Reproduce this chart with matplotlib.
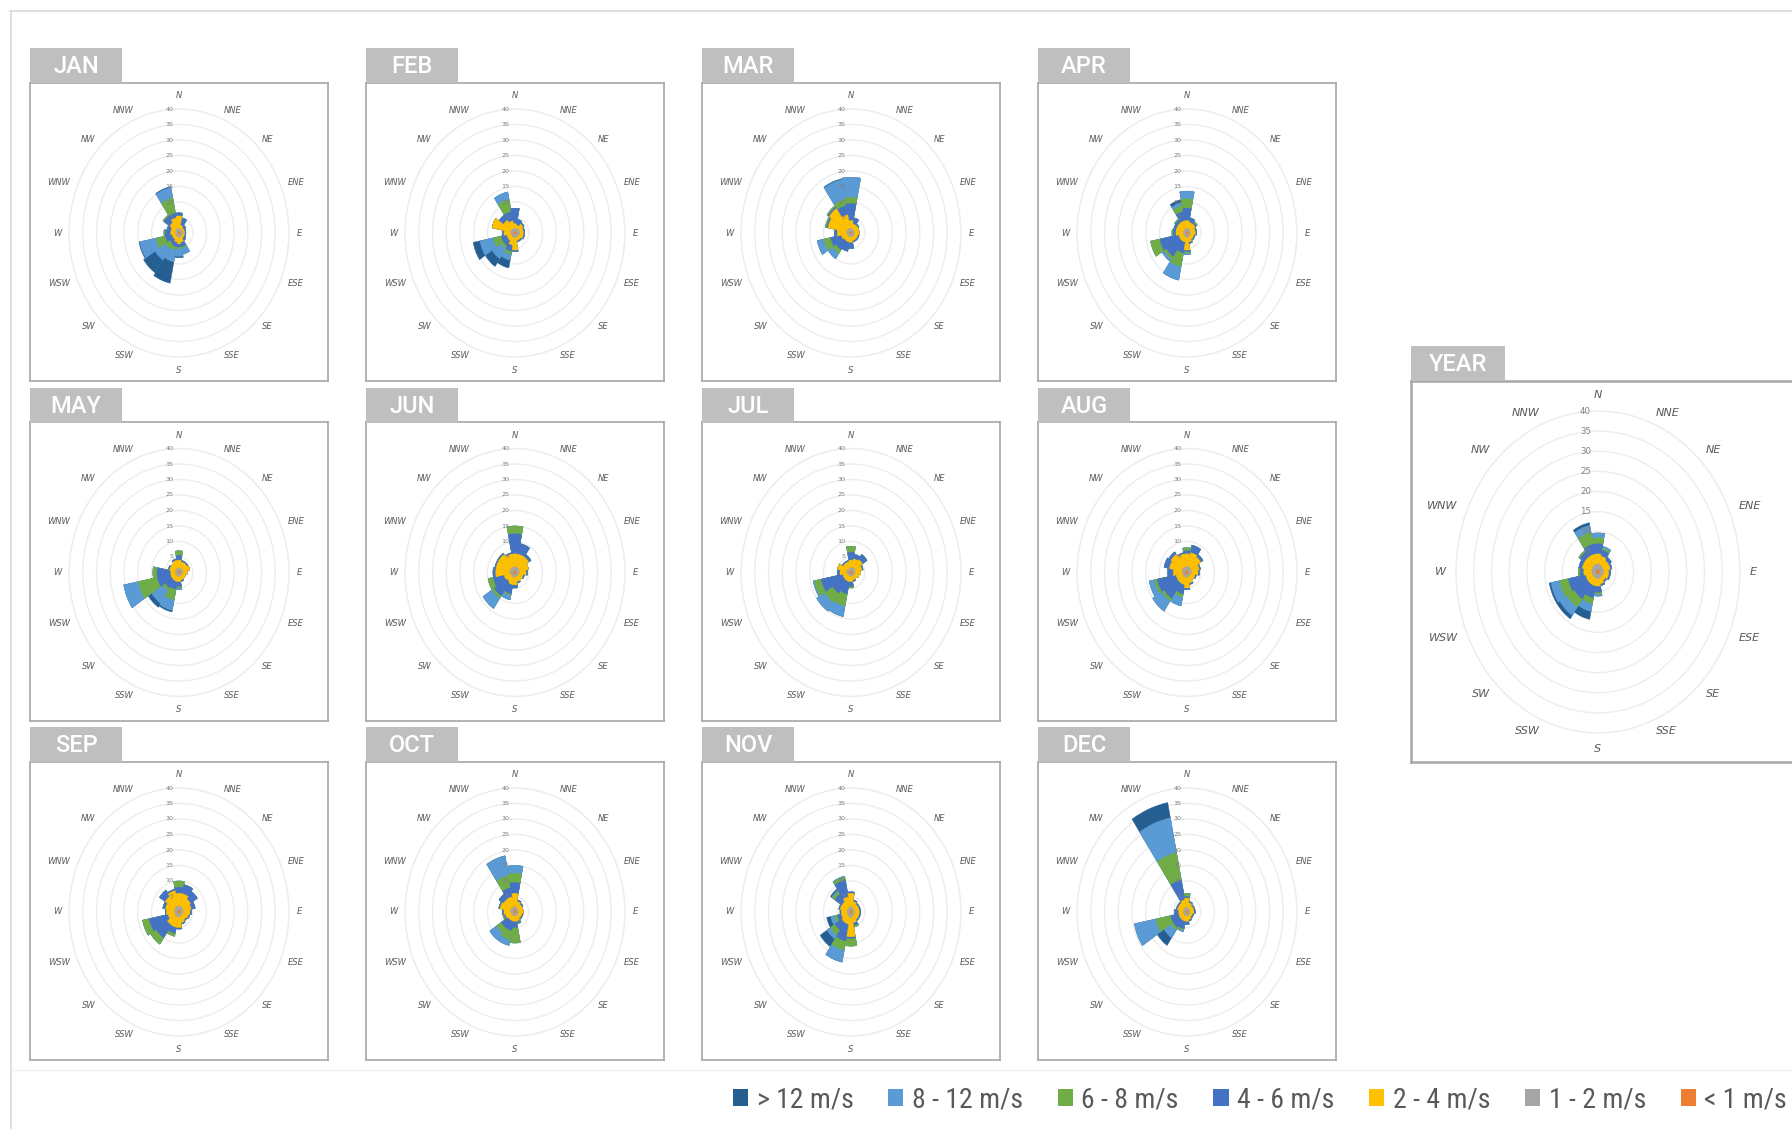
import numpy as np
import matplotlib
matplotlib.use("Agg")
import matplotlib.pyplot as plt
from matplotlib.patches import Rectangle, Patch
from matplotlib.lines import Line2D
from matplotlib import font_manager

W, H = 1792, 1129

DIRS = ["N", "NNE", "NE", "ENE", "E", "ESE", "SE", "SSE",
        "S", "SSW", "SW", "WSW", "W", "WNW", "NW", "NNW"]
CLASSES = ["< 1 m/s", "1 - 2 m/s", "2 - 4 m/s", "4 - 6 m/s",
           "6 - 8 m/s", "8 - 12 m/s", "> 12 m/s"]
COLORS = ["#ED7D31", "#A5A5A5", "#FFC000", "#4472C4",
          "#70AD47", "#5B9BD5", "#255E91"]
RINGS = [5, 10, 15, 20, 25, 30, 35, 40]

# cumulative frequency (%) per direction, rows: <1, 1-2, 2-4, 4-6, 6-8, 8-12, >12
JAN = [
    [0.4, 0.3, 0.3, 0.3, 0.4, 0.3, 0.3, 0.3, 0.4, 0.3, 0.3, 0.3, 0.3, 0.3, 0.4, 0.4],
    [1.4, 1.2, 1.2, 1.3, 1.5, 1.3, 1.2, 1.3, 1.4, 1.3, 1.2, 1.2, 1.3, 1.3, 1.4, 1.5],
    [5.5, 2.5, 2.0, 2.0, 2.0, 2.0, 2.0, 3.0, 3.5, 3.0, 2.5, 2.5, 3.0, 3.0, 4.0, 5.0],
    [6.5, 5.0, 3.0, 2.5, 2.5, 2.5, 3.0, 4.5, 4.5, 4.5, 4.0, 5.0, 5.0, 4.5, 6.5, 6.5],
    [6.5, 5.0, 3.0, 2.5, 2.5, 2.5, 3.0, 5.0, 5.0, 5.5, 6.0, 8.5, 5.5, 4.5, 7.0, 11.5],
    [6.5, 5.0, 3.0, 2.5, 2.5, 2.5, 3.0, 7.0, 7.5, 9.5, 10.5, 14.5, 5.5, 4.5, 7.0, 15.0],
    [6.5, 5.0, 3.0, 2.5, 2.5, 2.5, 3.0, 7.0, 8.0, 16.5, 15.5, 14.8, 5.5, 4.5, 7.0, 15.3],
]
FEB = [
    [0.4, 0.4, 0.5, 0.4, 0.5, 0.4, 0.3, 0.3, 0.4, 0.3, 0.3, 0.3, 0.4, 0.4, 0.4, 0.4],
    [1.5, 1.4, 1.8, 1.6, 1.8, 1.5, 1.3, 1.3, 1.5, 1.4, 1.3, 1.3, 1.5, 1.6, 1.5, 1.4],
    [3.0, 2.5, 3.5, 3.0, 3.0, 3.0, 2.5, 2.5, 5.5, 4.0, 3.0, 3.0, 4.0, 8.5, 5.0, 4.0],
    [8.0, 4.5, 4.0, 3.5, 3.5, 3.5, 3.0, 3.0, 6.0, 6.0, 5.0, 5.0, 4.5, 8.5, 7.0, 7.0],
    [8.0, 4.5, 4.0, 3.5, 3.5, 3.5, 3.0, 3.0, 6.0, 7.0, 6.0, 8.0, 4.5, 8.5, 7.0, 11.0],
    [8.0, 4.5, 4.0, 3.5, 3.5, 3.5, 3.0, 3.0, 6.0, 9.0, 10.0, 13.0, 4.5, 8.5, 7.0, 13.5],
    [8.0, 4.5, 4.0, 3.5, 3.5, 3.5, 3.0, 3.0, 6.0, 11.5, 13.0, 15.5, 4.5, 8.5, 7.0, 13.5],
]
MAR = [
    [0.4, 0.3, 0.3, 0.3, 0.3, 0.3, 0.3, 0.3, 0.3, 0.3, 0.3, 0.3, 0.4, 0.4, 0.4, 0.4],
    [1.5, 1.3, 1.2, 1.2, 1.2, 1.1, 1.1, 1.1, 1.2, 1.3, 1.3, 1.3, 1.5, 1.6, 1.6, 1.5],
    [4.0, 3.0, 3.0, 3.0, 3.0, 2.5, 2.5, 2.5, 3.0, 3.0, 3.0, 3.5, 5.0, 8.5, 9.5, 6.0],
    [9.5, 5.0, 3.5, 3.0, 3.0, 3.0, 3.0, 3.0, 5.0, 6.0, 6.5, 7.5, 6.0, 9.0, 10.0, 9.0],
    [11.5, 5.0, 3.5, 3.0, 3.0, 3.0, 3.0, 3.0, 5.0, 6.0, 8.0, 10.0, 6.0, 9.5, 10.5, 11.0],
    [18.0, 5.0, 3.5, 3.0, 3.0, 3.0, 3.0, 3.0, 5.0, 6.0, 10.0, 12.5, 6.0, 9.5, 10.5, 17.5],
    [18.0, 5.0, 3.5, 3.0, 3.0, 3.0, 3.0, 3.0, 5.0, 6.0, 10.0, 12.5, 6.0, 9.5, 10.5, 17.8],
]
APR = [
    [0.4, 0.4, 0.3, 0.3, 0.3, 0.3, 0.3, 0.3, 0.4, 0.3, 0.3, 0.3, 0.3, 0.3, 0.3, 0.4],
    [1.5, 1.4, 1.3, 1.2, 1.2, 1.1, 1.1, 1.2, 1.5, 1.3, 1.2, 1.2, 1.3, 1.3, 1.3, 1.4],
    [4.0, 3.5, 3.5, 3.0, 3.0, 2.5, 2.5, 3.0, 5.5, 3.0, 3.0, 3.0, 4.0, 4.0, 4.0, 4.0],
    [8.0, 5.0, 4.0, 3.5, 3.5, 3.0, 3.0, 3.5, 6.0, 6.5, 9.0, 10.0, 5.0, 5.0, 5.0, 7.0],
    [11.0, 5.0, 4.5, 3.5, 3.5, 3.0, 3.0, 3.5, 6.5, 11.0, 10.0, 13.5, 5.5, 5.0, 5.5, 9.0],
    [13.5, 5.0, 4.5, 3.5, 3.5, 3.0, 3.0, 3.5, 7.0, 15.5, 11.0, 13.5, 5.5, 5.0, 5.5, 10.0],
    [13.5, 5.0, 4.5, 3.5, 3.5, 3.0, 3.0, 3.5, 7.0, 15.5, 11.0, 13.5, 5.5, 5.0, 5.5, 11.0],
]
MAY = [
    [0.4, 0.3, 0.4, 0.4, 0.3, 0.3, 0.3, 0.3, 0.3, 0.3, 0.3, 0.3, 0.3, 0.3, 0.3, 0.4],
    [1.5, 1.3, 1.4, 1.5, 1.3, 1.1, 1.1, 1.1, 1.2, 1.2, 1.2, 1.2, 1.2, 1.3, 1.3, 1.4],
    [4.0, 3.5, 3.5, 4.0, 3.0, 2.5, 2.5, 2.5, 3.0, 3.0, 3.0, 3.0, 3.0, 3.5, 3.5, 4.0],
    [5.5, 4.0, 4.0, 4.0, 3.0, 2.5, 2.5, 3.0, 4.5, 5.5, 6.0, 8.0, 8.0, 4.0, 3.5, 4.5],
    [7.0, 4.0, 4.0, 4.0, 3.0, 2.5, 2.5, 3.0, 5.0, 9.0, 7.0, 15.0, 9.5, 4.0, 3.5, 4.5],
    [7.0, 4.0, 4.0, 4.0, 3.0, 2.5, 2.5, 3.0, 5.5, 12.5, 12.0, 20.5, 9.5, 4.0, 3.5, 4.5],
    [7.0, 4.0, 4.0, 4.0, 3.0, 2.5, 2.5, 3.0, 5.5, 13.0, 13.5, 20.5, 9.5, 4.0, 3.5, 4.5],
]
JUN = [
    [0.5, 0.5, 0.5, 0.4, 0.4, 0.3, 0.3, 0.3, 0.4, 0.4, 0.3, 0.4, 0.5, 0.5, 0.5, 0.5],
    [1.8, 1.8, 1.7, 1.6, 1.5, 1.2, 1.2, 1.2, 1.5, 1.5, 1.3, 1.5, 1.8, 1.8, 1.8, 1.8],
    [6.0, 6.0, 6.0, 5.0, 4.0, 3.0, 3.0, 3.0, 4.0, 4.0, 3.5, 4.0, 7.0, 7.0, 7.0, 6.0],
    [12.5, 9.5, 7.0, 5.0, 4.5, 3.5, 3.0, 3.5, 5.0, 7.0, 9.0, 8.0, 8.0, 7.5, 7.5, 6.5],
    [15.0, 9.5, 7.0, 5.0, 4.5, 3.5, 3.0, 3.5, 5.0, 7.5, 10.0, 10.0, 8.0, 7.5, 7.5, 6.5],
    [15.0, 9.5, 7.0, 5.0, 4.5, 3.5, 3.0, 3.5, 5.0, 9.0, 14.0, 10.0, 8.0, 7.5, 7.5, 6.5],
    [15.0, 9.5, 7.0, 5.0, 4.5, 3.5, 3.0, 3.5, 5.0, 9.0, 14.0, 10.0, 8.0, 7.5, 7.5, 6.5],
]
JUL = [
    [0.4, 0.4, 0.5, 0.4, 0.4, 0.3, 0.3, 0.3, 0.3, 0.3, 0.3, 0.3, 0.4, 0.4, 0.3, 0.3],
    [1.5, 1.6, 1.7, 1.5, 1.4, 1.2, 1.1, 1.1, 1.2, 1.2, 1.2, 1.2, 1.5, 1.6, 1.3, 1.3],
    [4.0, 4.5, 5.0, 4.0, 3.5, 3.0, 2.5, 2.5, 3.0, 3.0, 3.0, 3.0, 4.0, 5.0, 3.5, 3.5],
    [6.5, 6.0, 7.0, 4.5, 3.5, 3.0, 2.5, 3.0, 4.5, 7.0, 8.0, 11.0, 5.0, 5.0, 4.0, 4.0],
    [8.5, 6.0, 7.0, 4.5, 3.5, 3.0, 2.5, 3.0, 5.0, 11.0, 11.5, 13.5, 5.0, 5.0, 4.0, 4.0],
    [8.5, 6.0, 7.0, 4.5, 3.5, 3.0, 2.5, 3.0, 5.0, 14.5, 15.0, 14.0, 5.0, 5.0, 4.0, 4.0],
    [8.5, 6.0, 7.0, 4.5, 3.5, 3.0, 2.5, 3.0, 5.0, 14.5, 15.0, 14.0, 5.0, 5.0, 4.0, 4.0],
]
AUG = [
    [0.5, 0.5, 0.5, 0.4, 0.4, 0.3, 0.3, 0.3, 0.4, 0.4, 0.4, 0.4, 0.4, 0.5, 0.5, 0.5],
    [1.8, 1.9, 1.8, 1.6, 1.5, 1.2, 1.2, 1.3, 1.6, 1.5, 1.5, 1.5, 1.6, 1.8, 1.9, 1.8],
    [6.0, 6.5, 6.0, 4.5, 4.0, 3.0, 3.0, 3.5, 5.0, 4.0, 4.0, 4.0, 5.0, 6.5, 7.0, 6.0],
    [7.0, 9.0, 7.0, 5.0, 4.5, 3.5, 3.0, 4.0, 5.5, 7.0, 10.0, 11.0, 7.0, 8.5, 8.0, 6.5],
    [8.0, 9.0, 7.0, 5.0, 4.5, 3.5, 3.0, 4.0, 5.5, 8.0, 11.0, 12.0, 7.0, 8.5, 8.0, 6.5],
    [8.0, 9.0, 7.0, 5.0, 4.5, 3.5, 3.0, 4.0, 5.5, 11.0, 15.0, 14.0, 7.0, 8.5, 8.0, 6.5],
    [8.0, 9.0, 7.0, 5.0, 4.5, 3.5, 3.0, 4.0, 5.5, 11.0, 15.0, 14.0, 7.0, 8.5, 8.0, 6.5],
]
SEP = [
    [0.5, 0.5, 0.4, 0.4, 0.4, 0.3, 0.3, 0.3, 0.4, 0.4, 0.4, 0.4, 0.4, 0.4, 0.5, 0.5],
    [1.8, 1.8, 1.6, 1.5, 1.5, 1.3, 1.2, 1.3, 1.6, 1.6, 1.6, 1.5, 1.5, 1.6, 1.8, 1.9],
    [6.0, 6.0, 5.0, 4.5, 4.0, 3.5, 3.0, 3.5, 5.0, 5.0, 5.0, 4.0, 4.5, 5.0, 6.0, 7.0],
    [8.0, 9.0, 8.0, 6.0, 4.5, 4.0, 3.5, 4.0, 5.5, 7.0, 10.0, 11.0, 5.0, 6.0, 8.5, 7.5],
    [10.0, 9.0, 8.0, 6.0, 4.5, 4.0, 3.5, 4.0, 5.5, 8.0, 12.5, 13.5, 5.0, 6.0, 8.5, 7.5],
    [10.0, 9.0, 8.0, 6.0, 4.5, 4.0, 3.5, 4.0, 5.5, 8.0, 12.5, 13.5, 5.0, 6.0, 8.5, 7.5],
    [10.0, 9.0, 8.0, 6.0, 4.5, 4.0, 3.5, 4.0, 5.5, 8.0, 12.5, 13.5, 5.0, 6.0, 8.5, 7.5],
]
OCT = [
    [0.5, 0.4, 0.3, 0.3, 0.3, 0.3, 0.3, 0.3, 0.3, 0.3, 0.3, 0.3, 0.4, 0.4, 0.4, 0.4],
    [1.8, 1.4, 1.2, 1.2, 1.2, 1.1, 1.1, 1.2, 1.2, 1.2, 1.2, 1.3, 1.5, 1.7, 1.6, 1.6],
    [6.0, 3.5, 3.0, 3.0, 3.0, 2.5, 2.5, 3.0, 3.0, 3.0, 3.0, 3.5, 4.0, 5.5, 5.0, 5.0],
    [9.5, 4.0, 3.5, 3.0, 3.0, 3.0, 3.0, 3.5, 5.0, 6.0, 6.0, 4.0, 4.5, 6.0, 7.0, 8.0],
    [12.5, 4.0, 3.5, 3.0, 3.0, 3.0, 3.0, 4.0, 10.0, 9.0, 8.0, 4.5, 4.5, 6.0, 7.0, 12.0],
    [15.0, 4.0, 3.5, 3.0, 3.0, 3.0, 3.0, 4.0, 10.0, 11.0, 11.0, 4.5, 4.5, 6.0, 7.0, 18.5],
    [15.0, 4.0, 3.5, 3.0, 3.0, 3.0, 3.0, 4.0, 10.0, 11.0, 11.0, 4.5, 4.5, 6.0, 7.0, 18.5],
]
NOV = [
    [0.5, 0.4, 0.3, 0.3, 0.3, 0.3, 0.3, 0.4, 0.5, 0.4, 0.4, 0.3, 0.3, 0.4, 0.4, 0.4],
    [1.8, 1.4, 1.2, 1.2, 1.2, 1.2, 1.2, 1.4, 1.9, 1.5, 1.5, 1.3, 1.3, 1.4, 1.4, 1.6],
    [6.0, 3.5, 3.0, 3.0, 3.0, 3.0, 3.0, 3.5, 8.0, 4.0, 4.0, 3.5, 3.5, 4.0, 4.0, 5.0],
    [6.5, 4.0, 3.5, 3.5, 3.5, 3.5, 3.5, 4.5, 8.5, 9.5, 7.0, 5.0, 4.0, 4.5, 7.0, 10.5],
    [6.5, 4.0, 3.5, 3.5, 3.5, 3.5, 3.5, 5.0, 11.0, 12.5, 9.0, 6.0, 4.0, 4.5, 8.0, 11.5],
    [6.5, 4.0, 3.5, 3.5, 3.5, 3.5, 3.5, 5.0, 11.0, 16.5, 10.5, 7.5, 4.0, 4.5, 8.5, 11.8],
    [6.5, 4.0, 3.5, 3.5, 3.5, 3.5, 3.5, 5.0, 11.0, 16.5, 13.5, 9.0, 4.0, 4.5, 9.0, 11.8],
]
DEC = [
    [0.4, 0.3, 0.3, 0.3, 0.3, 0.3, 0.3, 0.3, 0.3, 0.3, 0.3, 0.3, 0.3, 0.3, 0.3, 0.4],
    [1.5, 1.2, 1.1, 1.1, 1.1, 1.0, 1.0, 1.1, 1.2, 1.2, 1.2, 1.2, 1.2, 1.3, 1.3, 1.5],
    [4.5, 3.0, 2.5, 2.5, 2.5, 2.0, 2.0, 2.5, 3.0, 3.0, 3.0, 3.0, 3.0, 3.5, 3.5, 4.0],
    [5.0, 3.5, 3.0, 3.0, 3.0, 2.5, 2.5, 3.0, 4.0, 5.5, 6.0, 6.0, 4.5, 4.0, 4.0, 10.5],
    [6.0, 3.5, 3.0, 3.0, 3.0, 2.5, 2.5, 3.0, 4.0, 6.0, 7.0, 11.5, 4.5, 4.0, 4.0, 19.5],
    [6.0, 3.5, 3.0, 3.0, 3.0, 2.5, 2.5, 3.0, 4.0, 6.5, 10.0, 19.5, 4.5, 4.0, 4.0, 31.0],
    [6.0, 3.5, 3.0, 3.0, 3.0, 2.5, 2.5, 3.0, 4.0, 6.5, 13.0, 19.5, 4.5, 4.0, 4.0, 36.0],
]
YEAR = [
    [0.5, 0.5, 0.4, 0.4, 0.4, 0.4, 0.3, 0.4, 0.4, 0.4, 0.4, 0.4, 0.4, 0.5, 0.5, 0.5],
    [2.0, 1.8, 1.6, 1.6, 1.5, 1.4, 1.3, 1.5, 1.7, 1.6, 1.6, 1.6, 1.7, 1.8, 1.9, 2.0],
    [4.5, 4.0, 3.5, 3.5, 3.0, 3.0, 2.5, 3.0, 3.5, 3.5, 3.5, 3.5, 4.0, 4.5, 4.5, 4.5],
    [7.0, 5.5, 4.5, 4.0, 3.5, 3.5, 3.0, 3.5, 5.0, 6.5, 8.0, 8.5, 5.0, 5.5, 6.0, 7.0],
    [8.5, 6.0, 4.5, 4.0, 3.5, 3.5, 3.0, 3.5, 5.5, 8.0, 10.5, 11.0, 5.5, 5.5, 6.5, 10.0],
    [9.7, 6.5, 4.5, 4.0, 3.5, 3.5, 3.0, 3.5, 6.0, 10.0, 13.0, 13.5, 5.5, 5.5, 6.5, 11.8],
    [9.7, 6.5, 4.5, 4.0, 3.5, 3.5, 3.0, 3.5, 6.0, 12.0, 14.0, 14.0, 5.5, 5.5, 6.5, 12.5],
]

MONTHS = ["JAN", "FEB", "MAR", "APR", "MAY", "JUN",
          "JUL", "AUG", "SEP", "OCT", "NOV", "DEC"]
MONTH_DATA = [JAN, FEB, MAR, APR, MAY, JUN, JUL, AUG, SEP, OCT, NOV, DEC]

_available = {f.name for f in font_manager.fontManager.ttflist}
NARROW = next((f for f in ["Roboto Condensed", "Liberation Sans Narrow", "DejaVu Sans Condensed"]
               if f in _available), "DejaVu Sans")
TABFONT = "Roboto" if "Roboto" in _available else "DejaVu Sans"


def fx(px):
    return px / W


def fy(py):
    return 1 - py / H


fig = plt.figure(figsize=(W / 100, H / 100), dpi=100)
fig.patch.set_facecolor("white")

# outer frame lines
fig.add_artist(Line2D([fx(10), 1], [fy(11), fy(11)], transform=fig.transFigure,
                      color="#D9D9D9", lw=1.2))
fig.add_artist(Line2D([fx(11), fx(11)], [fy(11), 0], transform=fig.transFigure,
                      color="#D9D9D9", lw=1.2))
fig.add_artist(Line2D([fx(11), 1], [fy(1070), fy(1070)], transform=fig.transFigure,
                      color="#F0F0F0", lw=1.0))


def panel(name, cum, left, top, size_w, size_h, cx, cy, rx, ry, dir_fs, tick_fs, tick_off,
          tab_w, tab_h, tab_fs, box_lw):
    # frame box
    bx = fig.add_axes([fx(left), fy(top + size_h), size_w / W, size_h / H], zorder=0)
    bx.set_xticks([])
    bx.set_yticks([])
    for s in bx.spines.values():
        s.set_color("#A6A6A6")
        s.set_linewidth(box_lw)
    # tab
    fig.add_artist(Rectangle((fx(left), fy(top)), tab_w / W, tab_h / H,
                             transform=fig.transFigure, facecolor="#BFBFBF",
                             edgecolor="none", zorder=1))
    fig.text(fx(left + tab_w / 2), fy(top - tab_h / 2 + 1), name, color="white",
             fontsize=tab_fs, ha="center", va="center", family=TABFONT,
             fontweight="medium")
    # polar rose
    ax = fig.add_axes([fx(cx - rx), fy(cy + ry), 2 * rx / W, 2 * ry / H],
                      projection="polar", zorder=2)
    ax.set_aspect("auto")
    ax.patch.set_alpha(0)
    ax.set_theta_zero_location("N")
    ax.set_theta_direction(-1)
    theta = np.deg2rad(np.arange(len(DIRS)) * 22.5)
    width = 2 * np.pi / len(DIRS)
    for k in range(len(CLASSES) - 1, -1, -1):
        ax.bar(theta, cum[k], width=width, color=COLORS[k], edgecolor=COLORS[k],
               linewidth=0.3, zorder=3 + (len(CLASSES) - k))
    ax.set_ylim(0, 40)
    ax.set_yticks(RINGS)
    ax.set_yticklabels([])
    ax.set_xticks([])
    ax.yaxis.grid(True, color="#EDEDED", lw=1.0)
    ax.spines["polar"].set_color("#EDEDED")
    ax.spines["polar"].set_linewidth(1.0)
    for r in RINGS:
        ax.annotate(str(r), xy=(0, r), xytext=(-tick_off, 0), textcoords="offset points",
                    ha="right", va="center", fontsize=tick_fs, color="#808080",
                    zorder=20, annotation_clip=False)
    for t, d in zip(theta, DIRS):
        s, c = np.sin(t), np.cos(t)
        if abs(s) < 0.01:
            ha = "center"
            va = "bottom" if c > 0 else "top"
        else:
            ha = "left" if s > 0 else "right"
            va = "center"
        ax.text(t, 42.8, d, ha=ha, va=va, fontsize=dir_fs,
                style="italic", color="#595959", clip_on=False, zorder=20)
    return ax


for i, (name, cum) in enumerate(zip(MONTHS, MONTH_DATA)):
    c, r = i % 4, i // 4
    left = 30 + 336 * c
    top = 83 + 339.5 * r
    panel(name, cum, left, top, 298, 298, left + 149, top + 150, 110, 124, 6, 4.6, 4,
          92, 35, 17, 1.2)

panel("YEAR", YEAR, 1411, 381, 420, 381, 1598, 572, 142, 161, 8, 6.2, 5,
      94, 35, 17, 1.8)

handles = [Patch(facecolor=COLORS[k], edgecolor="none") for k in range(len(CLASSES) - 1, -1, -1)]
labels = [CLASSES[k] for k in range(len(CLASSES) - 1, -1, -1)]
fig.legend(handles, labels, loc="center left", bbox_to_anchor=(fx(733), fy(1100)),
           ncol=7, frameon=False, handlelength=0.55, handleheight=0.55,
           handletextpad=0.3, columnspacing=1.25, labelcolor="#595959",
           borderaxespad=0, borderpad=0, prop={"family": NARROW, "size": 20})

fig.savefig("out.png", dpi=100, facecolor="white")
